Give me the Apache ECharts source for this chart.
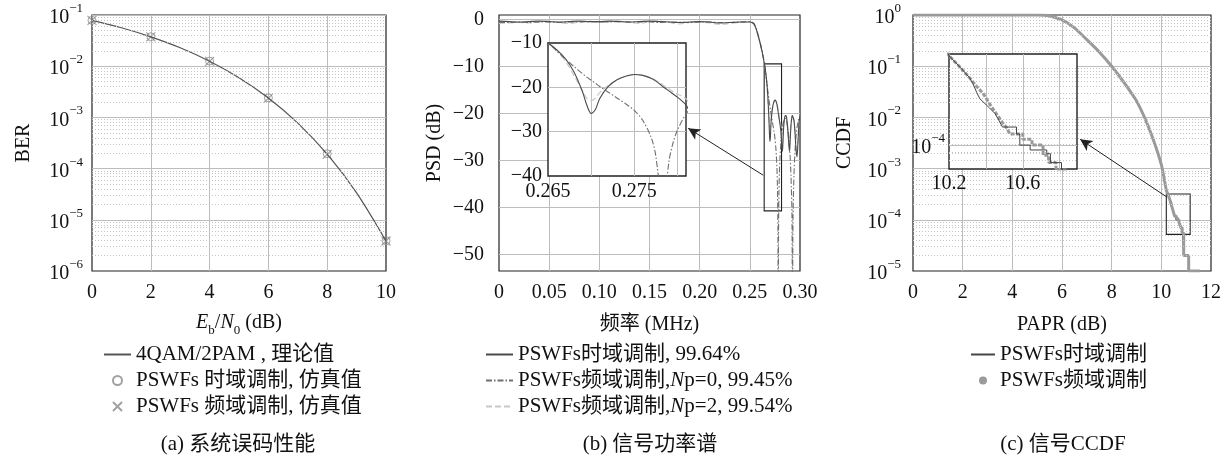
<!DOCTYPE html>
<html><head><meta charset="utf-8">
<script src="https://cdn.jsdelivr.net/npm/echarts@6/dist/echarts.min.js"></script>
<style>html,body{margin:0;padding:0;background:#fff}#c{width:1224px;height:468px}</style>
</head><body><div id="c"></div>
<script>
// ---------------- data: (a) BER ----------------
const ebn0 = [0,1,2,3,4,5,6,7,8,9,10];
const berTheory = [0.0786,0.0563,0.0375,0.0229,0.0125,0.00595,0.00239,0.000773,0.000191,3.36e-5,3.87e-6];
const simEbn0 = [0,2,4,6,8,10];
const berTimeSim = [0.0787,0.0376,0.0126,0.00240,0.000195,3.9e-6];
const berFreqSim = [0.0785,0.0374,0.0124,0.00238,0.000190,3.85e-6];

// ---------------- data: (b) PSD ----------------
const psdFreq = [0,0.01,0.02,0.03,0.04,0.05,0.06,0.07,0.08,0.09,0.10,0.11,0.12,0.13,0.14,0.15,0.16,0.17,0.18,0.19,0.20,0.21,0.22,0.23,0.24,0.25,
  0.252,0.254,0.256,0.258,0.26,0.262,0.264,0.265,0.266,0.267,0.268,0.269,0.2695,0.27,0.2705,0.271,0.272,0.273,0.274,0.275,0.276,0.277,0.2775,0.278,0.2783,0.2786,0.279,0.2795,0.28,0.281,0.282,0.2825,0.283,0.284,0.285,0.286,0.287,0.288,0.289,0.2895,0.29,0.291,0.292,0.2925,0.293,0.294,0.295,0.296,0.297,0.298,0.299,0.3];
const psdTime = [-0.3,-0.4,-0.5,-0.4,-0.3,-0.4,-0.5,-0.4,-0.3,-0.4,-0.4,-0.3,-0.4,-0.5,-0.4,-0.3,-0.4,-0.5,-0.6,-0.5,-0.4,-0.5,-0.7,-0.6,-0.5,-0.5,
  -0.6,-0.9,-1.8,-3.2,-4.8,-6.6,-8.8,-10,-11.5,-13.5,-16.5,-21,-24,-25.9,-25,-22.5,-19.8,-18.3,-17.5,-17.1,-17.3,-18,-18.6,-19.3,-19.8,-20.2,-20.8,-21.5,-22.2,-24,-27.5,-28,-26,-22,-20.6,-20.4,-21.5,-24,-27,-28,-26.5,-22.5,-20.6,-20.4,-20.4,-21.5,-24,-27.5,-29.2,-26,-22,-20.4];
const psdFreqNp0 = [-0.6,-0.6,-0.5,-0.6,-0.5,-0.5,-0.6,-0.5,-0.5,-0.4,-0.5,-0.5,-0.4,-0.5,-0.5,-0.5,-0.6,-0.5,-0.5,-0.6,-0.5,-0.5,-0.6,-0.6,-0.5,-0.4,
  -0.5,-0.8,-1.6,-3.0,-4.6,-6.5,-8.7,-10,-11.8,-13.6,-15.3,-16.9,-17.7,-18.4,-19.1,-19.8,-21.1,-22.4,-23.7,-25.2,-27.5,-31.5,-35.5,-45,-70,-46,-37,-32.5,-29.7,-26,-23.8,-23,-22.3,-21.4,-21,-21.2,-22,-23.5,-25.5,-27,-28.5,-33,-42,-70,-43,-33,-28,-25,-23,-21.8,-21,-20.6];
const psdFreqNp2 = [-0.8,-0.7,-0.6,-0.7,-0.5,-0.3,-0.6,-0.8,-0.5,-0.3,-0.6,-0.4,-0.3,-0.6,-0.8,-0.4,-0.3,-0.6,-0.9,-0.6,-0.5,-0.7,-1.0,-0.8,-0.6,-0.5,
  -0.6,-0.9,-1.8,-3.2,-4.8,-6.6,-8.8,-10,-11.7,-14,-17.3,-20.8,-22.5,-23,-22.4,-21.2,-19.6,-18.3,-17.5,-17.1,-17.3,-17.9,-18.4,-19.0,-19.4,-19.8,-20.3,-21,-21.5,-22.6,-25.5,-27,-25.5,-22,-20.6,-20.4,-21.3,-23.5,-26.5,-27.5,-26,-22.5,-20.6,-20.4,-20.4,-21.3,-23.5,-27,-28.5,-26,-22,-20.4];

// ---------------- data: (c) CCDF ----------------
const paprTime = [0,1,2,3,4,5,5.5,6,6.5,7,7.5,8,8.5,9,9.5,10,10.2,10.25,10.31,10.33,10.35,10.367,10.42,10.45,10.47,10.49,10.566,10.566,10.584,10.584,10.64,10.64,10.73,10.73,10.75,10.75,10.81,10.81,10.85,10.85,10.9,10.9,11.1,11.1,11.55];
const ccdfTime = [1,1,1,1,1,0.998,0.96,0.8,0.56,0.33,0.19,0.1,0.048,0.021,0.0062,0.0012,3.8e-4,3.3e-4,2.75e-4,2.5e-4,2.2e-4,2.0e-4,1.74e-4,1.6e-4,1.45e-4,1.31e-4,1.31e-4,1.18e-4,1.18e-4,1.0e-4,1.0e-4,9.3e-5,9.3e-5,8.8e-5,8.8e-5,7.7e-5,7.7e-5,6.9e-5,6.9e-5,5.5e-5,5.5e-5,2e-5,2e-5,1e-5,1e-5];
const paprFreq = [0,1,2,3,4,5,5.5,6,6.5,7,7.5,8,8.5,9,9.5,10,10.2,10.25,10.31,10.35,10.385,10.42,10.46,10.49,10.51,10.53,10.6,10.6,10.65,10.65,10.71,10.71,10.74,10.74,10.78,10.78,10.84,10.84,10.9,10.9,11.1,11.1,11.55];
const ccdfFreq = [1,1,1,1,1,0.998,0.96,0.8,0.56,0.33,0.19,0.1,0.048,0.021,0.0062,0.0012,3.8e-4,3.3e-4,2.75e-4,2.4e-4,2.16e-4,1.85e-4,1.58e-4,1.4e-4,1.31e-4,1.18e-4,1.18e-4,1.09e-4,1.09e-4,1.0e-4,1.0e-4,8.6e-5,8.6e-5,7.7e-5,7.7e-5,6.9e-5,6.9e-5,5.5e-5,5.5e-5,2e-5,2e-5,1e-5,1e-5];

// ---------------- texts ----------------
const namesA = ['4QAM/2PAM , 理论值','PSWFs 时域调制, 仿真值','PSWFs 频域调制, 仿真值'];
const namesB = ['PSWFs时域调制, 99.64%','PSWFs频域调制,Np=0, 99.45%','PSWFs频域调制,Np=2, 99.54%'];
const namesC = ['PSWFs时域调制','PSWFs频域调制'];
const captions = ['(a) 系统误码性能','(b) 信号功率谱','(c) 信号CCDF'];

// ---------------- helpers ----------------
const FF = "'Liberation Serif','Noto Sans CJK SC',serif";
const FS = 20;
const FL = 21;
const TXT = '#111';
const GRIDC = '#bdbdbd';
const pairs = (xs, ys) => xs.map((x, i) => [x, ys[i]]);
const minus = v => (v < 0 ? '\u2212' + (-v) : '' + v);
const richSup = {
  b: {fontSize: FS, fontFamily: FF, color: TXT, lineHeight: 26, verticalAlign: 'bottom'},
  s: {fontSize: 13, fontFamily: FF, color: TXT, lineHeight: 14, verticalAlign: 'top'}
};
function logLabel(v) {
  const e = Math.round(Math.log10(v));
  if (Math.abs(Math.log10(v) - e) > 1e-6) return '';
  return '{b|10}{s|' + minus(e) + '}';
}
// dotted minor grid values (2..9 x 10^e)
function minorLogValues(lo, hi) {
  const out = [];
  for (let e = lo; e < hi; e++) for (let k = 2; k <= 9; k++) out.push(k * Math.pow(10, e));
  return out;
}
const minorStyle = {type: [1, 2], color: '#c4c4c4', width: 1};
const markMinor = (vals, x0, x1) => ({silent: true, symbol: ['none', 'none'], label: {show: false}, lineStyle: minorStyle,
  emphasis: {disabled: true}, data: vals.map(v => [{coord: [x0, v]}, {coord: [x1, v]}])});

const splitL = {show: true, showMinLine: false, showMaxLine: false, lineStyle: {color: GRIDC, width: 1}};
const axLabel = (extra) => Object.assign({color: TXT, fontSize: FS, fontFamily: FF}, extra);
const hideSym = {opacity: 0};

const chart = echarts.init(document.getElementById('c'), null, {renderer: 'canvas'});

const option = {
  animation: false,
  backgroundColor: '#fff',
  grid: [
    {left: 92, top: 15, width: 294, height: 256, show: true, borderColor: '#222', borderWidth: 1.2, backgroundColor: '#fff'},
    {left: 499, top: 15, width: 301, height: 256, show: true, borderColor: '#222', borderWidth: 1.2, backgroundColor: '#fff'},
    {left: 548, top: 43, width: 138, height: 133, show: true, borderColor: '#222', borderWidth: 1.4, backgroundColor: '#fff', z: 5},
    {left: 913, top: 15, width: 300, height: 256, show: true, borderColor: '#222', borderWidth: 1.2, backgroundColor: '#fff'},
    {left: 949, top: 54, width: 128, height: 115, show: true, borderColor: '#222', borderWidth: 1.4, backgroundColor: '#fff', z: 5}
  ],
  xAxis: [
    {gridIndex: 0, type: 'value', min: 0, max: 10, interval: 2, axisLine: {show: false}, axisTick: {show: false},
     axisLabel: axLabel({margin: 12}), splitLine: splitL,
     name: '{i|E}{sb|b}{n|/}{i|N}{sb|0}{n| (dB)}', nameLocation: 'middle', nameGap: 42,
     nameTextStyle: {rich: {
       i: {fontSize: FS, fontFamily: FF, fontStyle: 'italic', color: TXT, lineHeight: 24, verticalAlign: 'top'},
       n: {fontSize: FS, fontFamily: FF, color: TXT, lineHeight: 24, verticalAlign: 'top'},
       sb: {fontSize: 13, fontFamily: FF, color: TXT, lineHeight: 13, verticalAlign: 'bottom'}
     }}},
    {gridIndex: 1, type: 'value', min: 0, max: 0.3, interval: 0.05, axisLine: {show: false}, axisTick: {show: false},
     axisLabel: axLabel({margin: 12, formatter: v => (Math.abs(v) < 1e-9 ? '0' : v.toFixed(2))}), splitLine: splitL,
     name: '频率 (MHz)', nameLocation: 'middle', nameGap: 44, nameTextStyle: {fontSize: FS, fontFamily: FF, color: TXT}},
    {gridIndex: 2, type: 'value', min: 0.265, max: 0.281, interval: 0.005, z: 6, axisLine: {show: false}, axisTick: {show: false},
     axisLabel: axLabel({margin: 6, formatter: v => ((Math.abs(v - 0.265) < 1e-6 || Math.abs(v - 0.275) < 1e-6) ? v.toFixed(3) : '')}),
     splitLine: splitL},
    {gridIndex: 3, type: 'value', min: 0, max: 12, interval: 2, axisLine: {show: false}, axisTick: {show: false},
     axisLabel: axLabel({margin: 12}), splitLine: splitL,
     name: 'PAPR (dB)', nameLocation: 'middle', nameGap: 44, nameTextStyle: {fontSize: FS, fontFamily: FF, color: TXT}},
    {gridIndex: 4, type: 'value', min: 10.2, max: 10.894, interval: 0.2, z: 6, axisLine: {show: false}, axisTick: {show: false},
     axisLabel: axLabel({margin: 5, formatter: v => ((Math.abs(v - 10.2) < 1e-6 || Math.abs(v - 10.6) < 1e-6) ? v.toFixed(1) : '')}),
     splitLine: splitL}
  ],
  yAxis: [
    {gridIndex: 0, type: 'log', logBase: 10, min: 1e-6, max: 0.1, axisLine: {show: false}, axisTick: {show: false},
     axisLabel: {margin: 9, formatter: logLabel, rich: richSup}, splitLine: splitL,
     name: 'BER', nameLocation: 'middle', nameGap: 58, nameTextStyle: {fontSize: FS, fontFamily: FF, color: TXT}},
    {gridIndex: 1, type: 'value', min: -53.5, max: 1, splitNumber: 5, axisLine: {show: false}, axisTick: {show: false},
     axisLabel: axLabel({margin: 15, formatter: v => (Math.abs(v % 10) < 1e-6 ? minus(v) : '')}), splitLine: splitL,
     name: 'PSD (dB)', nameLocation: 'middle', nameGap: 54, nameTextStyle: {fontSize: FS, fontFamily: FF, color: TXT}},
    {gridIndex: 2, type: 'value', min: -40, max: -10, interval: 10, z: 6, axisLine: {show: false}, axisTick: {show: false},
     axisLabel: axLabel({margin: 6, showMinLabel: true, showMaxLabel: true, formatter: v => minus(v)}), splitLine: splitL},
    {gridIndex: 3, type: 'log', logBase: 10, min: 1e-5, max: 1, axisLine: {show: false}, axisTick: {show: false},
     axisLabel: {margin: 12, formatter: logLabel, rich: richSup}, splitLine: splitL,
     name: 'CCDF', nameLocation: 'middle', nameGap: 58, nameTextStyle: {fontSize: FS, fontFamily: FF, color: TXT}},
    {gridIndex: 4, type: 'log', logBase: 10, min: 7e-5, max: 3.9e-4, z: 6, axisLine: {show: false}, axisTick: {show: false},
     axisLabel: {margin: 4, formatter: logLabel, rich: richSup, showMinLabel: true, showMaxLabel: true}, splitLine: splitL}
  ],
  legend: [
    {left: 98, top: 339, orient: 'vertical', itemWidth: 27, itemHeight: 9, itemGap: 5, selectedMode: false,
     textStyle: {fontSize: FL, fontFamily: FF, color: TXT},
     data: [{name: namesA[0], itemStyle: hideSym}, namesA[1], namesA[2]]},
    {left: 480, top: 339, orient: 'vertical', itemWidth: 27, itemHeight: 9, itemGap: 5, selectedMode: false,
     textStyle: {fontSize: FL, fontFamily: FF, color: TXT, rich: {i: {fontSize: FL, fontFamily: FF, fontStyle: 'italic', color: TXT}}},
     formatter: n => n.replace('Np', '{i|N}p'),
     data: namesB.map(n => ({name: n, itemStyle: hideSym}))},
    {left: 965, top: 339, orient: 'vertical', itemWidth: 24, itemHeight: 8, itemGap: 5, selectedMode: false,
     textStyle: {fontSize: FL, fontFamily: FF, color: TXT},
     data: [{name: namesC[0], itemStyle: hideSym}, {name: namesC[1], icon: 'circle'}]}
  ],
  graphic: captions.map((t, i) => ({
    type: 'text', x: [238, 650, 1063][i], y: 444,
    style: {text: t, fontSize: FL, fontFamily: FF, fill: TXT, align: 'center', verticalAlign: 'middle', textAlign: 'center', textVerticalAlign: 'middle'}
  })),
  series: [
    // (a)
    {name: namesA[0], type: 'line', xAxisIndex: 0, yAxisIndex: 0, data: pairs(ebn0, berTheory), symbol: 'none',
     lineStyle: {color: '#555', width: 1.2}, itemStyle: {color: '#555'}, smooth: 0.3,
     markLine: markMinor(minorLogValues(-6, -1), 0, 10)},
    {name: namesA[1], type: 'scatter', xAxisIndex: 0, yAxisIndex: 0, data: pairs(simEbn0, berTimeSim), symbol: 'circle', symbolSize: 8,
     itemStyle: {color: 'rgba(0,0,0,0)', borderColor: '#8a8a8a', borderWidth: 1}},
    {name: namesA[2], type: 'scatter', xAxisIndex: 0, yAxisIndex: 0, data: pairs(simEbn0, berFreqSim), symbol: 'path://M0,0L10,10M10,0L0,10', symbolSize: 9,
     itemStyle: {color: 'rgba(0,0,0,0)', borderColor: '#8a8a8a', borderWidth: 1.2}},
    // (b) main
    {name: namesB[2], type: 'line', xAxisIndex: 1, yAxisIndex: 1, data: pairs(psdFreq, psdFreqNp2), symbol: 'none', smooth: 0.3,
     lineStyle: {color: '#c8c8c8', width: 1.2, type: [6, 3]}, itemStyle: {color: '#c8c8c8'}},
    {name: namesB[1], type: 'line', xAxisIndex: 1, yAxisIndex: 1, data: pairs(psdFreq, psdFreqNp0), symbol: 'none', smooth: 0.3,
     lineStyle: {color: '#707070', width: 1.1, type: [6, 2, 1.5, 2]}, itemStyle: {color: '#707070'}},
    {name: namesB[0], type: 'line', xAxisIndex: 1, yAxisIndex: 1, data: pairs(psdFreq, psdTime), symbol: 'none', smooth: 0.3,
     lineStyle: {color: '#4a4a4a', width: 1.1}, itemStyle: {color: '#4a4a4a'},
     markArea: {silent: true, itemStyle: {color: 'rgba(0,0,0,0)', borderColor: '#222', borderWidth: 1.1},
       data: [[{coord: [0.2643, -9.4]}, {coord: [0.2816, -40.7]}]]},
     markLine: {silent: true, symbol: ['none', 'arrow'], symbolSize: [9, 12], label: {show: false},
       lineStyle: {color: '#222', width: 1, type: 'solid'}, emphasis: {disabled: true},
       data: [[{coord: [0.2633, -33.1]}, {coord: [0.1885, -23.1]}]]}},
    // (b) inset
    {name: namesB[2] + ' (inset)', type: 'line', xAxisIndex: 2, yAxisIndex: 2, z: 7, data: pairs(psdFreq, psdFreqNp2), symbol: 'none', smooth: 0.3,
     lineStyle: {color: '#c8c8c8', width: 1.2, type: [6, 3]}},
    {name: namesB[1] + ' (inset)', type: 'line', xAxisIndex: 2, yAxisIndex: 2, z: 7, data: pairs(psdFreq, psdFreqNp0), symbol: 'none', smooth: 0.3,
     lineStyle: {color: '#707070', width: 1.1, type: [6, 2, 1.5, 2]}},
    {name: namesB[0] + ' (inset)', type: 'line', xAxisIndex: 2, yAxisIndex: 2, z: 7, data: pairs(psdFreq, psdTime), symbol: 'none', smooth: 0.3,
     lineStyle: {color: '#4a4a4a', width: 1.1}},
    // (c) main
    {name: namesC[0], type: 'line', xAxisIndex: 3, yAxisIndex: 3, data: pairs(paprTime, ccdfTime), symbol: 'none',
     lineStyle: {color: '#444', width: 1}, itemStyle: {color: '#444'},
     markLine: markMinor(minorLogValues(-5, 0), 0, 12)},
    {name: namesC[1], type: 'line', xAxisIndex: 3, yAxisIndex: 3, data: pairs(paprFreq, ccdfFreq), symbol: 'none', smooth: 0.2,
     lineStyle: {color: '#9a9a9a', width: 3}, itemStyle: {color: '#9a9a9a'},
     markArea: {silent: true, itemStyle: {color: 'rgba(0,0,0,0)', borderColor: '#222', borderWidth: 1.1},
       data: [[{coord: [10.2, 3.2e-4]}, {coord: [11.16, 5.2e-5]}]]},
     markLine: {silent: true, symbol: ['none', 'arrow'], symbolSize: [9, 12], label: {show: false},
       lineStyle: {color: '#222', width: 1, type: 'solid'}, emphasis: {disabled: true},
       data: [[{coord: [10.2, 2.83e-4]}, {coord: [6.73, 3.74e-3]}]]}},
    // (c) inset
    {name: namesC[1] + ' (inset)', type: 'line', xAxisIndex: 4, yAxisIndex: 4, z: 7, data: pairs(paprFreq, ccdfFreq), symbol: 'none',
     lineStyle: {color: '#9a9a9a', width: 3, type: [4, 1.5]},
     markLine: markMinor([8e-5, 9e-5, 2e-4, 3e-4], 10.2, 10.894)},
    {name: namesC[0] + ' (inset)', type: 'line', xAxisIndex: 4, yAxisIndex: 4, z: 7, data: pairs(paprTime, ccdfTime), symbol: 'none',
     lineStyle: {color: '#444', width: 1}}
  ]
};
chart.setOption(option);
</script>
</body></html>
